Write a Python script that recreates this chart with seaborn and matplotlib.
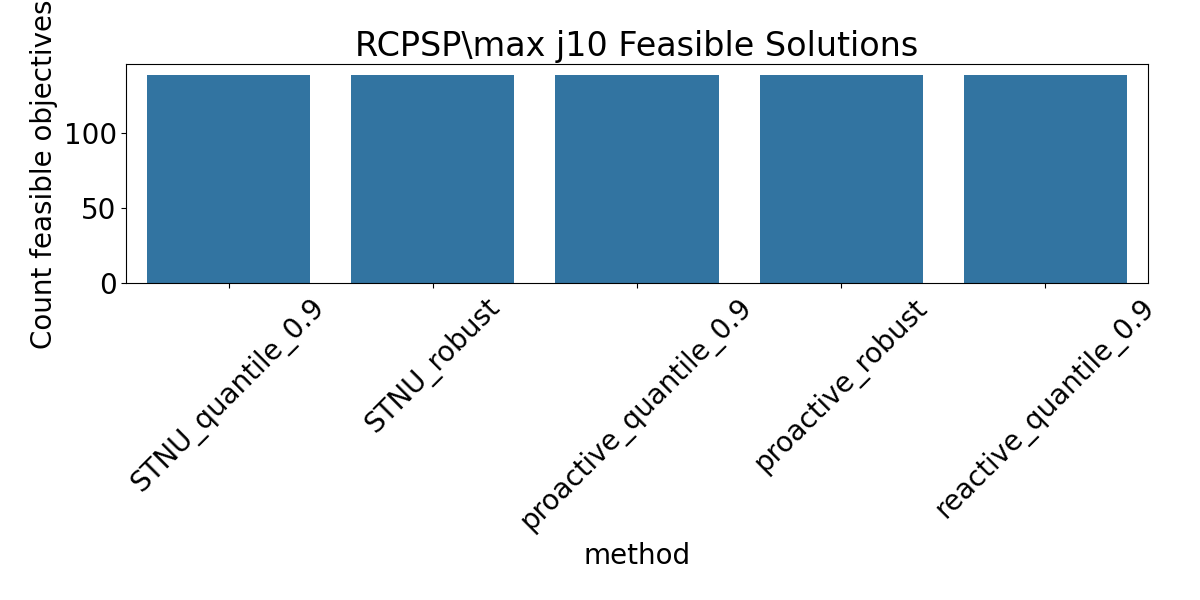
import pandas as pd
import matplotlib
matplotlib.use("Agg")
import matplotlib.pyplot as plt
import seaborn as sns

methods = ["STNU_quantile_0.9", "STNU_robust", "proactive_quantile_0.9",
           "proactive_robust", "reactive_quantile_0.9"]
counts = [139, 139, 139, 139, 139]

df = pd.DataFrame({"method": methods, "count": counts})

plt.rcParams.update({"font.size": 20})
fig, ax = plt.subplots(figsize=(12, 6), dpi=100)
sns.barplot(x="method", y="count", data=df, color="tab:blue", ax=ax)
ax.set_title("RCPSP\\max j10 Feasible Solutions", fontsize=24)
ax.set_ylabel("Count feasible objectives", fontsize=20)
ax.set_xlabel("method", fontsize=20)
plt.xticks(rotation=45)
plt.tight_layout()
plt.savefig("out.png")
